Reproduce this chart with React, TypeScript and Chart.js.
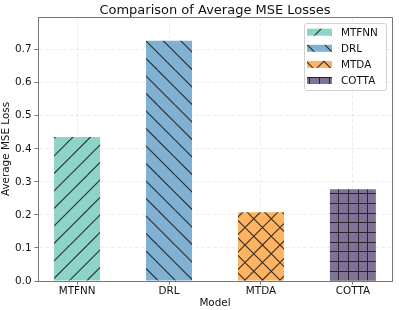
import { useEffect, useRef } from 'react';
import { Chart, registerables } from 'chart.js';

Chart.register(...registerables);

const categories = ['MTFNN', 'DRL', 'MTDA', 'COTTA'];
const mseValues = [0.436, 0.727, 0.208, 0.278];
const barColors = ['#8dd3c7', '#80b1d3', '#fdb462', '#807296'];
const hatches = ['/', '\\', 'x', '+'];
const yTicks = [0, 0.1, 0.2, 0.3, 0.4, 0.5, 0.6, 0.7];
const xTicks = categories.map((_, i) => i);

const FONT = "'DejaVu Sans', sans-serif";
const SPINE = '#777';
const GRID = 'rgba(0,0,0,0.07)';

function makePattern(ctx: CanvasRenderingContext2D, color: string, kind: string) {
  const plus = kind === '+';
  const n = plus ? 3 : 2;
  const size = plus ? 29 : 35;
  const step = size / n;
  const c = document.createElement('canvas');
  c.width = size;
  c.height = size;
  const g = c.getContext('2d')!;
  g.fillStyle = color;
  g.fillRect(0, 0, size, size);
  g.strokeStyle = 'rgba(25,25,25,0.85)';
  g.lineWidth = plus ? 1 : 1.15;
  g.beginPath();
  if (plus) {
    for (let k = 0; k < n; k++) {
      const p = Math.round(k * step) + 0.5;
      g.moveTo(p, 0); g.lineTo(p, size);
      g.moveTo(0, p); g.lineTo(size, p);
    }
  } else {
    for (let k = -1; k <= 2 * n + 1; k++) {
      const o = k * step;
      if (kind === '/' || kind === 'x') { g.moveTo(o, 0); g.lineTo(o - size, size); }
      if (kind === '\\' || kind === 'x') { g.moveTo(o - size, 0); g.lineTo(o, size); }
    }
  }
  g.stroke();
  return ctx.createPattern(c, 'repeat')!;
}

export default function App() {
  const ref = useRef<HTMLCanvasElement>(null);
  useEffect(() => {
    const canvas = ref.current!;
    const ctx = canvas.getContext('2d')!;
    Chart.defaults.font.family = FONT;
    const patterns = barColors.map((c, i) => makePattern(ctx, c, hatches[i]));

    const decor = {
      id: 'decor',
      afterDraw(chart: any) {
        const { ctx: c, chartArea: a } = chart;
        c.save();
        c.strokeStyle = SPINE;
        c.lineWidth = 1;
        c.beginPath();
        c.moveTo(Math.round(a.left), Math.round(a.top) + 0.5);
        c.lineTo(Math.round(a.right) + 0.5, Math.round(a.top) + 0.5);
        c.lineTo(Math.round(a.right) + 0.5, Math.round(a.bottom));
        c.stroke();
        c.fillStyle = '#111';
        c.font = `13px ${FONT}`;
        c.textAlign = 'center';
        c.textBaseline = 'alphabetic';
        c.fillText('Comparison of Average MSE Losses', (a.left + a.right) / 2, 14);
        const bx = 304.5, by = 23.5, bw = 82, bh = 67, r = 2.5;
        c.beginPath();
        c.moveTo(bx + r, by);
        c.arcTo(bx + bw, by, bx + bw, by + bh, r);
        c.arcTo(bx + bw, by + bh, bx, by + bh, r);
        c.arcTo(bx, by + bh, bx, by, r);
        c.arcTo(bx, by, bx + bw, by, r);
        c.closePath();
        c.fillStyle = 'rgba(255,255,255,0.85)';
        c.fill();
        c.strokeStyle = '#d0d0d0';
        c.stroke();
        c.font = `10.4px ${FONT}`;
        c.textAlign = 'left';
        categories.forEach((name, i) => {
          const base = 36 + 16.1 * i;
          c.fillStyle = patterns[i];
          c.fillRect(307, base - 7.3, 25, 7);
          c.fillStyle = '#111';
          c.fillText(name, 341, base);
        });
        c.restore();
      },
    };

    const chart = new Chart(canvas, {
      type: 'bar',
      data: {
        datasets: [
          {
            data: mseValues.map((v, i) => ({ x: xTicks[i], y: v })),
            backgroundColor: patterns,
            borderWidth: 0,
            barPercentage: 0.5,
            categoryPercentage: 1,
          } as any,
        ],
      },
      options: {
        responsive: false,
        animation: false,
        devicePixelRatio: 1,
        layout: { padding: { top: 17, right: 7, left: 0, bottom: 0 } },
        plugins: { legend: { display: false }, title: { display: false }, tooltip: { enabled: false } },
        scales: {
          x: {
            type: 'linear',
            min: -0.425,
            max: 3.425,
            offset: false,
            afterBuildTicks: (s: any) => { s.ticks = xTicks.map((v) => ({ value: v })); },
            afterFit: (s: any) => { s.height = 29; },
            ticks: {
              callback: (v: any) => categories[v],
              padding: 1,
              color: '#111',
              font: { size: 10.4 },
              autoSkip: false,
              maxRotation: 0,
            },
            grid: { color: GRID, tickLength: 3.5, tickColor: SPINE, offset: false },
            border: { display: true, color: SPINE, dash: [4, 2] },
            title: { display: true, text: 'Model', padding: { top: 0, bottom: 0 }, font: { size: 10.4 }, color: '#111' },
          },
          y: {
            type: 'linear',
            min: 0,
            max: 0.799,
            afterBuildTicks: (s: any) => { s.ticks = yTicks.map((v) => ({ value: v })); },
            afterFit: (s: any) => { s.width = 38; },
            ticks: {
              callback: (v: any) => Number(v).toFixed(1),
              padding: 3,
              color: '#111',
              font: { size: 10.4 },
            },
            grid: { color: GRID, tickLength: 3.5, tickColor: SPINE },
            border: { display: true, color: SPINE, dash: [4, 2] },
            title: { display: true, text: 'Average MSE Loss', padding: { top: 0, bottom: 0 }, font: { size: 10.4 }, color: '#111' },
          },
        },
      },
      plugins: [decor],
    } as any);
    return () => chart.destroy();
  }, []);
  return (
    <div style={{ position: 'absolute', left: 0, top: 0, width: 399, height: 310 }}>
      <canvas ref={ref} width={399} height={310} style={{ display: 'block' }} />
    </div>
  );
}
